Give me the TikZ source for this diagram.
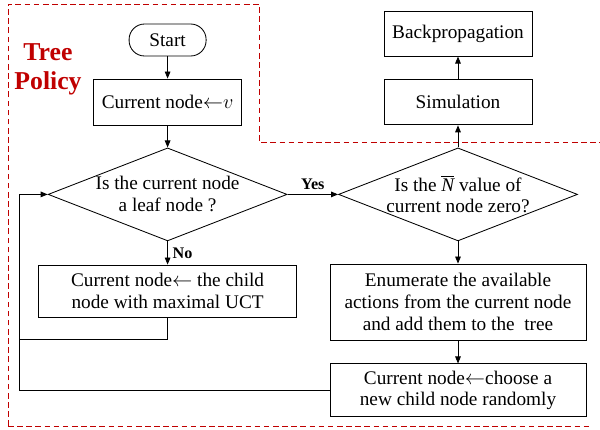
\documentclass[tikz,border=0pt]{standalone}
\usepackage{fontspec}
\setmainfont{Liberation Serif}
\usetikzlibrary{shapes.geometric, arrows.meta, positioning, calc}
\definecolor{policyred}{RGB}{192, 0, 0}

\begin{document}
\begin{tikzpicture}[
  font=\fontsize{13.7}{15.6}\selectfont,
  pbox/.style={draw, line width=0.6pt, align=center, inner sep=2pt},
  startbox/.style={pbox, rounded corners=11pt, minimum width=1.925cm, minimum height=0.8cm},
  decision/.style={draw, diamond, line width=0.6pt, aspect=2.57, inner sep=-1pt, align=center,
    minimum width=5.975cm, minimum height=2.325cm},
  flow/.style={line width=0.6pt, -{Triangle[length=5pt, width=4pt]}},
  loopline/.style={line width=0.6pt},
  region/.style={draw=policyred, dash pattern=on 4pt off 2.5pt, line width=0.7pt},
  tag/.style={font=\fontsize{11.5}{13}\selectfont\bfseries}
]
  \useasboundingbox (0, 0) rectangle (15, -10.725);

  % tree policy region
  \draw[region] (0.2, -10.65) -- (0.2, -0.1) -- (6.475, -0.1) -- (6.475, -3.55) -- (15, -3.55);
  \draw[region] (0.2, -10.65) -- (14.75, -10.65);
  \node[align=center, text=policyred, font=\fontsize{18.3}{20.6}\selectfont\bfseries] (policy) at (1.2, -1.74) {Tree\\Policy};

  % left column
  \node[startbox] (start) at (4.19, -1.0) {Start};
  \node[pbox, minimum width=3.7cm, minimum height=1.15cm] (cur) at (4.19, -2.55) {Current node$\leftarrow$$v$};
  \node[decision] (leaf) at (4.19, -4.86) {Is the current node\\a leaf node ?};
  \node[pbox, minimum width=6.45cm, minimum height=1.3cm] (child) at (4.19, -7.275)
    {Current node$\leftarrow$ the child\\node with maximal UCT};

  % right column
  \node[decision] (zero) at (11.45, -4.86) {Is the $\overline{\textit{N}}$ value of\\current node zero?};
  \node[pbox, minimum width=3.7cm, minimum height=1.125cm] (sim) at (11.45, -2.56) {Simulation};
  \node[pbox, minimum width=3.7cm, minimum height=1.125cm] (back) at (11.45, -0.84) {Backpropagation};
  \node[pbox, minimum width=6.4cm, minimum height=1.9cm] (enum) at (11.45, -7.55)
    {Enumerate the available\\actions from the current node\\and add them to the \ tree};
  \node[pbox, minimum width=6.4cm, minimum height=1.325cm] (rand) at (11.45, -9.76)
    {Current node$\leftarrow$choose a\\new child node randomly};

  \coordinate (loopx) at (0.49, 0);
  \coordinate (loopin) at (0.49, -8.475);

  \draw[flow] (start) -- (cur);
  \draw[flow] (cur) -- (leaf);
  \draw[flow] (leaf.south) -- node[tag, right] {No} (child);
  \draw[flow] (leaf.east) -- node[tag, above] {Yes} (zero.west);
  \draw[flow] (zero.north) -- (sim);
  \draw[flow] (sim) -- (back);
  \draw[flow] (zero.south) -- (enum);
  \draw[flow] (enum) -- (rand);

  % back to the decision
  \draw[loopline] (child.south) |- (loopin);
  \draw[flow] (rand.west) -| (loopx |- leaf.west) -- (leaf.west);
\end{tikzpicture}
\end{document}
